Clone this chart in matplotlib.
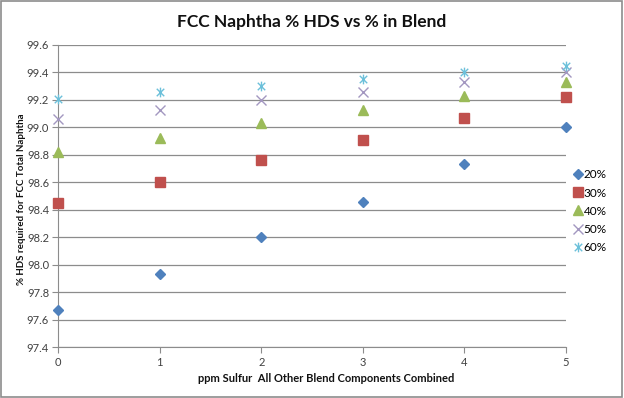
import matplotlib.pyplot as plt
from matplotlib.path import Path
from matplotlib.patches import Rectangle

plt.rcParams['font.family'] = ['Lato', 'DejaVu Sans']

ppm = [0, 1, 2, 3, 4, 5]
hds_20 = [97.67, 97.93, 98.20, 98.46, 98.73, 99.00]
hds_30 = [98.45, 98.60, 98.76, 98.91, 99.07, 99.22]
hds_40 = [98.82, 98.92, 99.03, 99.13, 99.23, 99.33]
hds_50 = [99.06, 99.13, 99.20, 99.26, 99.33, 99.40]
hds_60 = [99.21, 99.26, 99.30, 99.35, 99.40, 99.45]
labels = ['20%', '30%', '40%', '50%', '60%']
yticks = [97.4, 97.6, 97.8, 98.0, 98.2, 98.4, 98.6, 98.8, 99.0, 99.2, 99.4, 99.6]

# excel style star: x with a vertical bar
star = Path([(-1, -1), (1, 1), (-1, 1), (1, -1), (0, -1.3), (0, 1.3)],
            [Path.MOVETO, Path.LINETO, Path.MOVETO, Path.LINETO, Path.MOVETO, Path.LINETO])

styles = [
    dict(marker='D', color='#4F81BD', markersize=5),
    dict(marker='s', color='#C0504D', markersize=6.5),
    dict(marker='^', color='#9BBB59', markersize=7),
    dict(marker='x', color='#A397C0', markersize=7, markeredgewidth=1),
    dict(marker=star, color='#6CC0DA', markersize=7, markeredgewidth=1),
]

fig = plt.figure(figsize=(6.24, 3.98), dpi=100)
ax = fig.add_axes([0.093, 0.128, 0.814, 0.759])

for vals, lab, st in zip([hds_20, hds_30, hds_40, hds_50, hds_60], labels, styles):
    ax.plot(ppm, vals, linestyle='none', label=lab, clip_on=False, zorder=3, **st)

ax.set_xlim(0, 5)
ax.set_ylim(97.4, 99.6)
ax.set_yticks(yticks)
ax.set_yticklabels([f'{t:.1f}' for t in yticks])
ax.set_xticks(ppm)
ax.grid(axis='y', color='#8C8C8C', linewidth=0.9)
ax.set_axisbelow(True)
for s in ['top', 'right']:
    ax.spines[s].set_visible(False)
for s in ['left', 'bottom']:
    ax.spines[s].set_color('#8C8C8C')
ax.tick_params(axis='both', colors='#8C8C8C', labelcolor='#404040', labelsize=8, length=4, pad=2.5)
ax.tick_params(axis='x', pad=3)

fig.text(0.5, 0.944, 'FCC Naphtha % HDS vs % in Blend', ha='center', va='center',
         fontsize=12.5, fontweight='bold', color='#111111')
fig.text(0.522, 0.05, 'ppm Sulfur  All Other Blend Components Combined', ha='center', va='center',
         fontsize=8, fontweight='bold', color='#111111')
fig.text(0.035, 0.5, '% HDS required for FCC Total Naphtha', ha='center', va='center',
         rotation=90, fontsize=7, fontweight='bold', color='#111111')

ax.legend(loc='center left', bbox_to_anchor=(1.0, 0.45), frameon=False, fontsize=8.5,
          handlelength=0.6, handletextpad=0.2, labelspacing=0.6, borderaxespad=0.3)

fig.patches.append(Rectangle((0.002, 0.003), 0.995, 0.994, transform=fig.transFigure,
                             fill=False, edgecolor='#8C8C8C', linewidth=1.2))

fig.savefig('out.png', dpi=100)
